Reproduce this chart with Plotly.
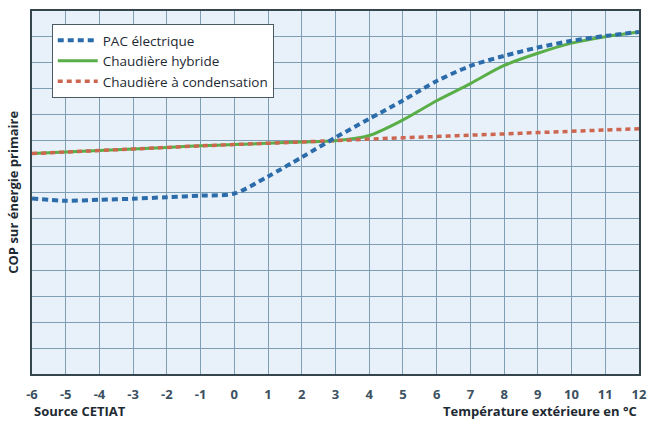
import plotly.graph_objects as go

temps = [-6, -5, -4, -3, -2, -1, 0, 1, 2, 3, 4, 5, 6, 7, 8, 9, 10, 11, 12]
pac_electrique = [6.77, 6.68, 6.72, 6.76, 6.82, 6.88, 6.96, 7.62, 8.36, 9.12, 9.84, 10.55, 11.3, 11.88, 12.27, 12.59, 12.85, 13.04, 13.19]
chaudiere_hybride = [8.5, 8.56, 8.62, 8.68, 8.74, 8.8, 8.85, 8.9, 8.95, 9.0, 9.2, 9.8, 10.54, 11.2, 11.9, 12.37, 12.76, 13.01, 13.19]
chaudiere_condensation = [8.5, 8.56, 8.62, 8.68, 8.74, 8.8, 8.85, 8.9, 8.95, 9.0, 9.06, 9.11, 9.16, 9.21, 9.26, 9.31, 9.36, 9.41, 9.46]
x_ticks = list(range(-6, 13))
y_range = [0, 14]

FONT = "Open Sans"

fig = go.Figure()
fig.add_trace(go.Scatter(x=temps, y=chaudiere_hybride, name="Chaudière hybride", mode="lines",
                         legendrank=2,
                         line=dict(color="#5aae48", width=3, shape="spline", smoothing=0.8)))
fig.add_trace(go.Scatter(x=temps, y=chaudiere_condensation, name="Chaudière à condensation", mode="lines",
                         legendrank=3,
                         line=dict(color="#cc6650", width=3.5, dash="5px,4px", shape="spline")))
fig.add_trace(go.Scatter(x=temps, y=pac_electrique, name="PAC électrique", mode="lines",
                         legendrank=1,
                         line=dict(color="#2c6cab", width=4, dash="6px,4px", shape="spline", smoothing=0.8)))

fig.update_layout(
    width=656, height=421,
    margin=dict(l=32, r=9, t=10, b=47),
    paper_bgcolor="white",
    plot_bgcolor="#e8f1f9",
    font=dict(family=FONT, size=12, color="#2b3a44"),
    showlegend=True,
    legend=dict(
        x=20/615, y=(374-23)/364, xanchor="left", yanchor="top",
        bgcolor="white", bordercolor="#4a5a64", borderwidth=1,
        font=dict(family=FONT, size=13.5, color="#1e2a33"),
        tracegroupgap=0, itemwidth=40,
    ),
    xaxis=dict(
        range=[-6, 12], tickvals=x_ticks, ticktext=[str(v) for v in x_ticks],
        showgrid=True, gridcolor="#7e9fb3", gridwidth=1,
        showline=True, linecolor="#35454e", linewidth=2, mirror=True,
        ticks="", zeroline=False, ticklabelstandoff=7,
        tickfont=dict(family=FONT, size=13, color="#3b5060", weight=700),
    ),
    yaxis=dict(
        range=y_range, dtick=1, showticklabels=False,
        showgrid=True, gridcolor="#7e9fb3", gridwidth=1,
        showline=True, linecolor="#35454e", linewidth=2, mirror=True,
        ticks="", zeroline=False,
    ),
    annotations=[
        dict(text="COP sur énergie primaire", textangle=-90, x=-20/615, y=0.5,
             xref="paper", yref="paper", xanchor="center", yanchor="middle", showarrow=False,
             font=dict(family=FONT, size=13, color="#1e2a33", weight=700)),
        dict(text="Source CETIAT", x=0, y=0, xref="paper", yref="paper",
             xanchor="left", yanchor="middle", yshift=-37, showarrow=False,
             font=dict(family=FONT, size=13, color="#1e2a33", weight=700)),
        dict(text="Température extérieure en °C", x=1, y=0, xref="paper", yref="paper",
             xanchor="right", yanchor="middle", yshift=-37, showarrow=False,
             font=dict(family=FONT, size=13, color="#1e2a33", weight=700)),
    ],
)

fig.write_html("out.html", config={"displayModeBar": False},
               post_script=("document.body.style.margin='0';"
                            "document.body.style.overflow='hidden';"
                            "document.documentElement.style.overflow='hidden';"))
